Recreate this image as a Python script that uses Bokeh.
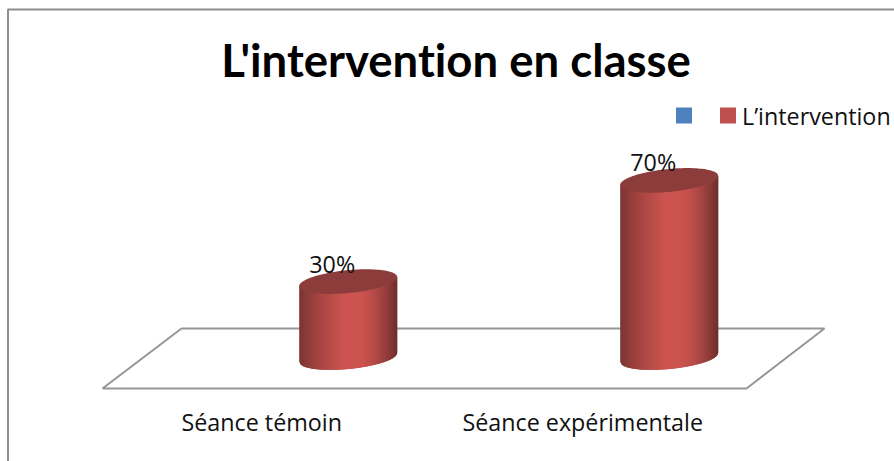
import math
from bokeh.plotting import figure
from bokeh.models import Range1d
from bokeh.core.properties import value
from bokeh.embed import file_html
from bokeh.resources import INLINE

title_text = "L'intervention en classe"
categories = ["Séance témoin", "Séance expérimentale"]
series_names = ["", "L’intervention"]
series_values = [30, 70]
value_labels = ["30%", "70%"]

# layout of the page
W, H, LEFT, TOP = 888, 454, 6, 7
CX0, DX = 347.7, 321.0     # page x of first cylinder, step between categories
BASE, PX_PER = 357.0, 2.53  # page y of value 0, pixels per percent
A, B, SHEAR = 49.0, 11.5, 4.5

def X(px): return (px - CX0) / DX
def Y(py): return (BASE - py) / PX_PER

p = figure(width=W, height=H, output_backend="svg", toolbar_location=None,
           x_range=Range1d(X(LEFT), X(LEFT + W)), y_range=Range1d(Y(TOP + H), Y(TOP)),
           min_border=0, outline_line_color=None, background_fill_color="white",
           border_fill_color="white")
p.axis.visible = False
p.grid.visible = False
p.styles = {"position": "absolute", "left": f"{LEFT}px", "top": f"{TOP}px",
            "font-variant-ligatures": "none"}

# chart border (left and top only are visible)
p.line([X(7.5), X(7.5)], [Y(461), Y(9)], line_color="#8e8e8e", line_width=2)
p.line([X(7), X(894)], [Y(9), Y(9)], line_color="#8e8e8e", line_width=2)

# floor
p.line([X(102), X(181), X(824), X(746), X(102)],
       [Y(388), Y(328), Y(328), Y(388), Y(388)], line_color="#969696", line_width=2)

def mix(a, b, t):
    return "#%02x%02x%02x" % tuple(round(a[i] + (b[i] - a[i]) * t) for i in range(3))

DARK_L, MID, DARK_R = (120, 52, 50), (204, 84, 80), (108, 46, 45)

def shade(u):
    if u < -0.1:
        return mix(DARK_L, MID, ((u + 1) / 0.9) ** 0.8)
    if u <= 0.2:
        return mix(MID, MID, 0)
    return mix(MID, DARK_R, ((u - 0.2) / 0.8) ** 1.6)

def low(u):
    return B * math.sqrt(max(0, 1 - u * u)) - SHEAR * u

N = 96
for i, v in enumerate(series_values):
    xs, ys, cols = [], [], []
    cx = i  # category position
    for k in range(N):
        u0 = -1 + 2 * k / N
        u1 = min(1, -1 + 2 * (k + 2.5) / N)  # overlap the next strip, so no seams show
        xs.append([cx + u0 * A / DX, cx + u1 * A / DX, cx + u1 * A / DX, cx + u0 * A / DX])
        ys.append([v + SHEAR * u0 / PX_PER, v + SHEAR * u1 / PX_PER,
                   -low(u1) / PX_PER, -low(u0) / PX_PER])
        cols.append(shade(-1 + 2 * (k + 0.5) / N))
    p.patches(xs, ys, fill_color=cols, line_color=None)
    tx, ty = [], []
    for k in range(121):
        t = 2 * math.pi * k / 120
        u = math.cos(t)
        tx.append(cx + u * A / DX)
        ty.append(v + (SHEAR * u + B * math.sin(t)) / PX_PER)
    p.patch(tx, ty, fill_color="#8c3d3b", line_color=None)

# value labels
p.text([i - 16 / DX for i in range(2)], [v + 2 / PX_PER for v in series_values], text=value_labels,
       text_font=value("Open Sans"), text_font_size="23.3px", text_color="#111111",
       text_align="center", text_baseline="bottom")

# category labels
p.text([i - 86.5 / DX for i in range(2)], [Y(421)] * 2, text=categories,
       text_font=value("Open Sans"), text_font_size="23.3px", text_color="#111111",
       text_align="center", text_baseline="middle")

# title
p.text([X(456)], [Y(59)], text=[title_text], text_font=value("Lato"), text_font_size="45.5px",
       text_font_style="bold", text_color="#000000", text_align="center", text_baseline="middle")

# legend
p.scatter([X(683.5), X(727.5)], [Y(115), Y(115)], marker="square", size=16,
          fill_color=["#4f81bd", "#c0504d"], line_color=None)
p.text([X(741.5)], [Y(115)], text=[series_names[1]], text_font=value("Open Sans"), text_font_size="23.3px",
       text_color="#111111", text_align="left", text_baseline="middle")

open("out.html", "w").write(file_html(p, INLINE))
